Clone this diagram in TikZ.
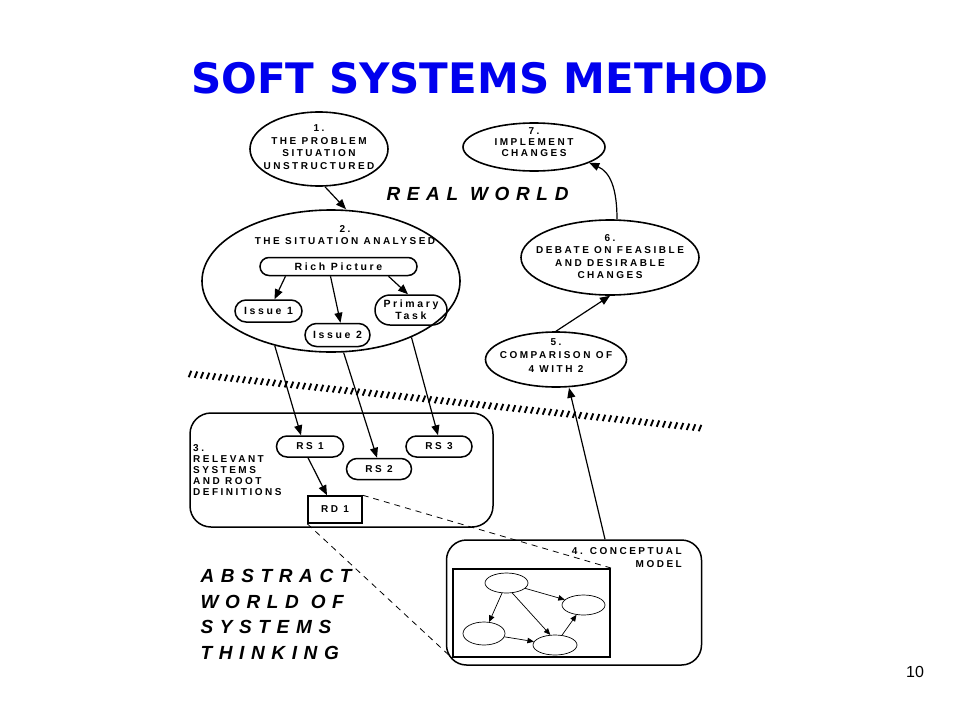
\documentclass[tikz,border=0pt]{standalone}
\usepackage{fontspec}
\usepackage{tikz}
\usetikzlibrary{shapes.geometric,shapes.misc,arrows.meta}
\newfontfamily\lblfont[LetterSpace=25]{Liberation Sans}
\newfontfamily\worldfont[LetterSpace=35]{Liberation Sans}
\newfontfamily\headfont{DejaVu Sans}
\newfontfamily\plainfont{Liberation Sans}
\definecolor{headblue}{RGB}{0,0,238}
\tikzset{
  stage/.style={ellipse,draw,line width=1.6pt,inner sep=0pt},
  stagetext/.style={align=center,inner sep=0pt,font=\lblfont\bfseries\fontsize{10}{12.5}\selectfont},
  pill/.style={rounded rectangle,draw,line width=1.5pt,inner sep=0pt,align=center,
    font=\lblfont\bfseries\fontsize{10.5}{12}\selectfont},
  rslabel/.style={pill,font=\lblfont\bfseries\fontsize{10}{11}\selectfont,minimum height=21pt},
  blob/.style={ellipse,draw,line width=0.7pt,minimum width=43pt,minimum height=20pt},
  panel/.style={draw,line width=1.5pt,rounded corners=21pt},
  world/.style={font=\worldfont\bfseries\itshape\fontsize{19}{25.5}\selectfont,align=left},
  every edge/.style={draw,-{Triangle[length=10pt,width=8pt]},line width=1.2pt},
  small tip/.style={-{Triangle[length=6.5pt,width=5.5pt]},line width=0.7pt},
  link/.style={-,dash pattern=on 6pt off 5pt,line width=0.8pt},
}
\begin{document}
\begin{tikzpicture}[x=1pt,y=-1pt]
\useasboundingbox (0,0) rectangle (960,720);

\node[font=\headfont\bfseries\fontsize{42}{50}\selectfont,text=headblue] (head) at (480,78) {SOFT SYSTEMS METHOD};
\node[font=\plainfont\fontsize{16}{18}\selectfont] (pgno) at (915,672) {10};

\node[stage,minimum width=138pt,minimum height=74pt,
  label={[stagetext,yshift=2pt]center:{1.\\THE PROBLEM\\SITUATION\\UNSTRUCTURED}}] (s1) at (319,149) {};
\node[stage,minimum width=142pt,minimum height=48pt,
  label={[stagetext,font=\lblfont\bfseries\fontsize{10}{11}\selectfont,yshift=5pt]center:{7.\\IMPLEMENT\\CHANGES}}] (s7) at (534,147) {};
\node[stage,minimum width=178pt,minimum height=75pt,
  label={[stagetext,yshift=1pt]center:{6.\\DEBATE ON FEASIBLE\\AND DESIRABLE\\CHANGES}}] (s6) at (610,257.5) {};
\node[stage,minimum width=141pt,minimum height=55pt,
  label={[stagetext,font=\lblfont\bfseries\fontsize{10}{13.5}\selectfont,yshift=4pt]center:{5.\\COMPARISON OF\\4 WITH 2}}] (s5) at (556,359.5) {};
\node[stage,minimum width=258pt,minimum height=142pt] (s2) at (331,281) {};
\node[stagetext] (s2t) at (345,235) {2.\\THE SITUATION ANALYSED};

\node[world] (real) at (477.5,194) {REAL WORLD};
\node[world,anchor=north west] (abstract) at (197,566) {ABSTRACT\\WORLD OF\\SYSTEMS\\THINKING};

\node[pill,minimum width=157pt,minimum height=18pt] (rich) at (338.5,266.5) {Rich Picture};
\node[pill,minimum width=67pt,minimum height=22pt] (i1) at (268.5,311) {Issue 1};
\node[pill,minimum width=65pt,minimum height=23pt] (i2) at (337.5,335) {Issue 2};
\node[pill,minimum width=72pt,minimum height=30pt] (task) at (411,310) {Primary\\Task};

\foreach \i [evaluate=\i as \hx using 190+6*\i, evaluate=\i as \hy using 374+0.636*\i] in {0,...,85}
  \draw[line width=1.9pt] ({\hx-1.3},{\hy+3.2}) -- ({\hx+1.3},{\hy-3.2});

\node[panel,minimum width=303pt,minimum height=114pt] (rds) at (341.5,470) {};
\node[stagetext,anchor=north west,align=left,font=\lblfont\bfseries\fontsize{10}{11}\selectfont] (rdst) at (193,444.5) {3.\\RELEVANT\\SYSTEMS\\AND ROOT\\DEFINITIONS};
\node[rslabel,minimum width=67pt] (rs1) at (310,446.5) {RS 1};
\node[rslabel,minimum width=65pt] (rs2) at (379,469) {RS 2};
\node[rslabel,minimum width=66pt] (rs3) at (439,446.5) {RS 3};
\node[draw,line width=1.5pt,minimum width=54pt,minimum height=27pt,font=\lblfont\bfseries\fontsize{10}{11}\selectfont] (rd1) at (335,509.5) {RD 1};

\node[panel,rounded corners=20pt,minimum width=255pt,minimum height=125pt] (cm) at (574,602.5) {};
\node[stagetext,anchor=north east,align=right,font=\lblfont\bfseries\fontsize{10}{13}\selectfont] (cmt) at (682,547) {4. CONCEPTUAL\\MODEL};
\node[draw,line width=2pt,minimum width=157pt,minimum height=88pt] (model) at (531.5,613) {};
\node[blob] (m1) at (506.5,583) {};
\node[blob] (m2) at (583.5,605) {};
\node[blob,minimum width=42pt,minimum height=23pt] (m3) at (484,633.5) {};
\node[blob,minimum width=44pt] (m4) at (555,645) {};

\path
([xshift=6pt]s1.south) edge ([xshift=15pt]s2.north)
([xshift=-53pt]rich.south) edge ([xshift=6pt]i1.north)
([xshift=-8pt]rich.south) edge ([xshift=3pt]i2.north)
([xshift=50pt]rich.south) edge ([xshift=-3pt]task.north)
(s2.229) edge ([xshift=-9pt]rs1.north)
(s2.280) edge ([xshift=-2pt]rs2.north)
(s2.325) edge ([xshift=-1pt]rs3.north)
([xshift=-2pt]rs1.south) edge ([xshift=-8pt]rd1.north)
([xshift=31pt]cm.north) edge ([xshift=13pt]s5.south)
(s5.north) edge (s6.south)
(rd1.north east) edge[link] (model.north east)
(rd1.south west) edge[link] (model.south west)
(m1) edge[small tip] (m2)
(m1) edge[small tip] (m3)
(m1.-60) edge[small tip] (m4.115)
(m3) edge[small tip] (m4)
(m4) edge[small tip] (m2);
\draw[-{Triangle[length=10pt,width=8pt]},line width=1.2pt] ([xshift=7pt]s6.north) .. controls (617,188) and (610,172) .. (s7.-16);

\end{tikzpicture}
\end{document}
